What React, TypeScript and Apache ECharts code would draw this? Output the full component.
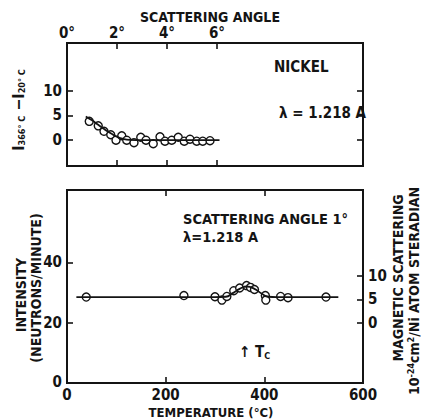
import React, { useEffect, useRef } from "react";
import * as echarts from "echarts";

// Top panel: scattering angle (deg) vs I(366C) - I(20C)
const angleDeg = [0.89, 1.25, 1.48, 1.75, 1.96, 2.19, 2.39, 2.68, 2.95, 3.16, 3.45, 3.72, 3.92, 4.19, 4.45, 4.69, 4.92, 5.19, 5.43, 5.72];
const diffIntensity = [3.8, 2.9, 1.8, 1.1, 0.0, 0.9, 0.0, -0.5, 0.6, 0.0, -0.7, 0.7, -0.2, 0.0, 0.6, -0.2, 0.2, -0.2, -0.2, -0.1];
const fitAngle = [0.75, 1.0, 1.25, 1.5, 1.75, 2.0, 2.25, 2.5, 3.0, 6.1];
const fitDiff = [4.8, 4.0, 3.1, 2.2, 1.4, 0.7, 0.25, 0.05, 0.0, 0.0];

// Bottom panel: temperature (C) vs intensity (neutrons/minute)
const temps = [39, 237, 300, 314, 324, 338, 350, 364, 372, 380, 402, 403, 433, 448, 525];
const intensity = [28.5, 29.0, 28.6, 27.5, 28.7, 30.6, 31.5, 32.3, 31.7, 31.0, 29.0, 27.5, 28.7, 28.3, 28.5];
const fitTemp = [19, 300, 322, 336, 350, 365, 380, 395, 408, 425, 550];
const fitIntensity = [28.5, 28.5, 28.6, 29.8, 31.2, 32.0, 31.2, 29.6, 28.6, 28.5, 28.5];

const topAngleTicks = [2, 4, 6];
const topAngleLabels = [0, 2, 4, 6];
const topDiffTicks = [0, 5, 10];
const tempTicks = [200, 400];
const tempLabels = [0, 200, 400, 600];
const intensityTicks = [20, 40];
const intensityLabels = [20, 40];
const intensityOriginLabel = "0";
const magneticTicks = [0, 5, 10];

const INK = "#141414";
const FONT = "'DejaVu Sans Condensed', 'DejaVu Sans', sans-serif";
const FW = "bold";

export default function App() {
  const ref = useRef<HTMLDivElement>(null);
  useEffect(() => {
    if (!ref.current) return;
    const chart = echarts.init(ref.current, null, { renderer: "svg" });
    const tick = (vals: number[]) => ({
      show: true,
      inside: true,
      length: 6,
      customValues: vals,
      lineStyle: { color: INK, width: 1.6 },
    });
    const label = (vals: number[], margin: number, fmt?: (v: number) => string) => ({
      show: true,
      customValues: vals,
      showMinLabel: true,
      showMaxLabel: true,
      hideOverlap: false,
      color: INK,
      fontSize: 15,
      fontFamily: FONT,
      fontWeight: FW,
      margin,
      formatter: fmt ? fmt : (v: number) => String(v),
    });
    const noLabel = { show: false };
    const base = {
      type: "value" as const,
      axisLine: { show: false, onZero: false },
      splitLine: { show: false },
    };
    const txt = (text: string, x: number, y: number, extra: any = {}, rot = 0) => ({
      type: "text",
      x,
      y,
      rotation: rot,
      style: {
        text,
        fill: INK,
        fontSize: 14,
        fontFamily: FONT,
        fontWeight: FW,
        align: "left",
        verticalAlign: "middle",
        ...extra,
      },
    });
    const sub = { fontSize: 9, fontFamily: FONT, fontWeight: FW, fill: INK, padding: [7, 0, 0, 0] };
    const sup = { fontSize: 9, fontFamily: FONT, fontWeight: FW, fill: INK, padding: [0, 0, 7, 0] };
    const main = { fontSize: 14, fontFamily: FONT, fontWeight: FW, fill: INK };

    chart.setOption({
      animation: false,
      backgroundColor: "#fff",
      grid: [
        { left: 67, top: 43, width: 296, height: 123, show: true, borderColor: INK, borderWidth: 2, backgroundColor: "transparent" },
        { left: 67, top: 190, width: 296, height: 193, show: true, borderColor: INK, borderWidth: 2, backgroundColor: "transparent" },
      ],
      xAxis: [
        { ...base, gridIndex: 0, position: "top", min: 0, max: 11.84, axisTick: tick(topAngleTicks), axisLabel: label(topAngleLabels, 3, (v) => v + "°") },
        { ...base, gridIndex: 0, position: "bottom", min: 0, max: 11.84, axisTick: tick(topAngleTicks), axisLabel: noLabel },
        { ...base, gridIndex: 1, position: "bottom", min: 0, max: 600, axisTick: tick(tempTicks), axisLabel: label(tempLabels, 4) },
        { ...base, gridIndex: 1, position: "top", min: 0, max: 600, axisTick: tick(tempTicks), axisLabel: noLabel },
      ],
      yAxis: [
        { ...base, gridIndex: 0, position: "left", min: -5.2, max: 19.6, axisTick: tick(topDiffTicks), axisLabel: label(topDiffTicks, 5) },
        { ...base, gridIndex: 0, position: "right", min: -5.2, max: 19.6, axisTick: tick(topDiffTicks), axisLabel: noLabel },
        { ...base, gridIndex: 1, position: "left", min: 0, max: 64, axisTick: tick(intensityTicks), axisLabel: label(intensityLabels, 5) },
        { ...base, gridIndex: 1, position: "right", min: -12.9, max: 28.4, axisTick: tick(magneticTicks), axisLabel: label(magneticTicks, 5) },
      ],
      series: [
        {
          type: "line", xAxisIndex: 0, yAxisIndex: 0, smooth: true, showSymbol: false,
          lineStyle: { color: INK, width: 1.8 },
          data: fitAngle.map((a, i) => [a, fitDiff[i]]),
        },
        {
          type: "scatter", xAxisIndex: 0, yAxisIndex: 0, symbol: "circle", symbolSize: 8,
          itemStyle: { color: "#fff", borderColor: INK, borderWidth: 1.4, opacity: 1 },
          data: angleDeg.map((a, i) => [a, diffIntensity[i]]),
        },
        {
          type: "line", xAxisIndex: 2, yAxisIndex: 2, smooth: true, showSymbol: false,
          lineStyle: { color: INK, width: 1.8 },
          data: fitTemp.map((t, i) => [t, fitIntensity[i]]),
        },
        {
          type: "scatter", xAxisIndex: 2, yAxisIndex: 2, symbol: "circle", symbolSize: 8,
          itemStyle: { color: "#fff", borderColor: INK, borderWidth: 1.4, opacity: 1 },
          data: temps.map((t, i) => [t, intensity[i]]),
        },
      ],
      graphic: [
        txt("SCATTERING ANGLE", 210, 17, { align: "center", fontSize: 14, lineHeight: 14 }),
        txt("NICKEL", 274, 67, { fontSize: 15 }),
        txt("λ = 1.218 A", 279, 113, { fontSize: 15 }),
        txt("SCATTERING ANGLE 1°", 183, 219, { fontSize: 14.5, lineHeight: 14 }),
        txt("λ=1.218 A", 183, 237, { fontSize: 14.5, lineHeight: 14 }),
        txt("{m|↑ T}{s|C}", 239, 352, { rich: { m: { ...main, fontSize: 15 }, s: sub } }),
        txt("TEMPERATURE (°C)", 211, 412, { align: "center", fontSize: 13 }),
        txt(intensityOriginLabel, 62, 382, { align: "right", fontSize: 15 }),
        txt("{m|I}{s|366° C}{m| −I}{s|20° C}", 18, 110, { align: "center", rich: { m: { ...main, fontSize: 16 }, s: sub } }, Math.PI / 2),
        txt("INTENSITY", 21, 295, { align: "center" }, Math.PI / 2),
        txt("(NEUTRONS/MINUTE)", 36, 288, { align: "center" }, Math.PI / 2),
        txt("MAGNETIC SCATTERING", 398, 278, { align: "center" }, Math.PI / 2),
        txt("{m|10}{p|-24}{m|cm}{p|2}{m|/Ni ATOM STERADIAN}", 414, 291, { align: "center", rich: { m: main, p: sup } }, Math.PI / 2),
      ],
    });
    return () => chart.dispose();
  }, []);
  return (
    <div
      ref={ref}
      style={{ position: "fixed", left: 0, top: 0, width: 421, height: 420 }}
    />
  );
}
